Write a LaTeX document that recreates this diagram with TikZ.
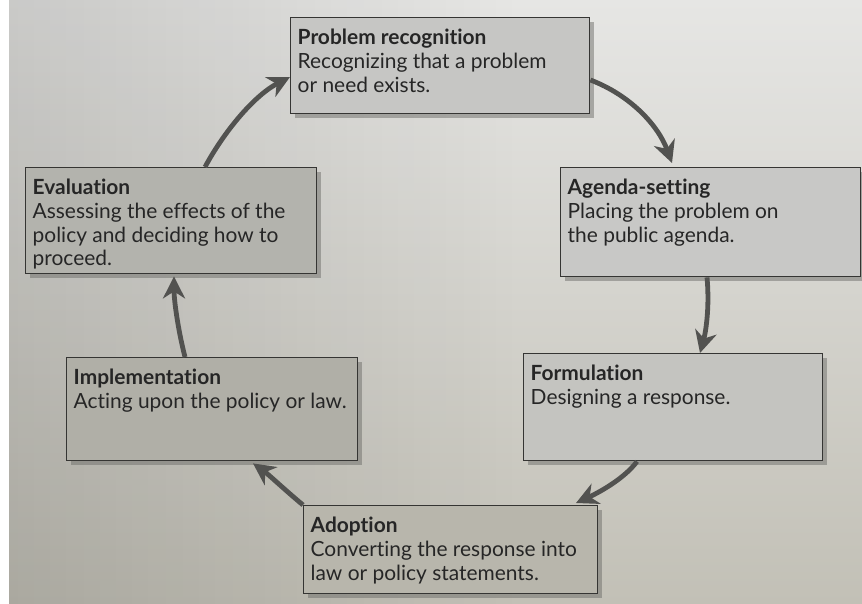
\documentclass[tikz,border=0pt]{standalone}
\usepackage{fontspec}
\setmainfont{Lato}[Ligatures=NoCommon]
\usetikzlibrary{arrows.meta,calc,fadings}
\definecolor{txt}{HTML}{262626}
\definecolor{boxline}{HTML}{353533}
\definecolor{arrowc}{HTML}{525250}
\definecolor{shadowc}{HTML}{6E6E6A}
\definecolor{bgtop}{HTML}{E6E6E4}
\definecolor{bgbot}{HTML}{C2C0B6}
\definecolor{fillpr}{HTML}{C6C6C4}
\definecolor{fillag}{HTML}{C8C8C6}
\definecolor{fillfo}{HTML}{C4C4C0}
\definecolor{fillad}{HTML}{B8B6AC}
\definecolor{fillim}{HTML}{B0AFA7}
\definecolor{fillev}{HTML}{B3B3AD}
\newcommand\stage[7]{%
  \fill[shadowbox] (#2+5,#3+5) rectangle ++(#4,#5);
  \node[box, fill=#6, minimum width=#4 bp, minimum height=#5 bp] (#1) at (#2,#3)
    {\parbox[c][#5bp][t]{\dimexpr#4bp-14bp\relax}{\vspace*{11bp}#7}};
}
\begin{document}
\begin{tikzpicture}[x=1bp,y=-1bp,
  box/.style={draw=boxline, line width=1.4bp, inner xsep=7bp, inner ysep=0pt,
    anchor=north west, text=txt, font=\fontsize{21}{24}\selectfont},
  shadowbox/.style={fill=shadowc, fill opacity=0.5, draw=none},
  flow/.style={draw=arrowc, line width=4.8bp,
    -{Stealth[length=22bp,width=22bp,inset=7bp]}}]
\useasboundingbox (0,0) rectangle (862,604);
\fill[white] (0,0) rectangle (862,604);
\shade[top color=bgtop, bottom color=bgbot] (9,0) rectangle (862,604);
\fill[black, fill opacity=0.12, path fading=east] (9,0) rectangle (520,604);

\stage{pr}{290}{17}{299}{96}{fillpr}{\textbf{Problem recognition}\\Recognizing that a problem\\or need exists.}
\stage{ag}{560}{167}{300}{109}{fillag}{\textbf{Agenda-setting}\\Placing the problem on\\the public agenda.}
\stage{fo}{523}{353}{299}{107}{fillfo}{\textbf{Formulation}\\Designing a response.}
\stage{ad}{303}{505}{294}{88}{fillad}{\textbf{Adoption}\\Converting the response into\\law or policy statements.}
\stage{im}{66}{357}{291}{103}{fillim}{\textbf{Implementation}\\Acting upon the policy or law.}
\stage{ev}{25}{167}{291}{106}{fillev}{\textbf{Evaluation}\\Assessing the effects of the\\policy and deciding how to\\proceed.}

\draw[flow] ($(pr.north east)+(0,63)$) .. controls (630,95) and (658,125) .. ($(ag.north west)+(112,-4)$);
\draw[flow] ($(ag.south west)+(147,0)$) .. controls (710,310) and (705,335) .. ($(fo.north west)+(177,0)$);
\draw[flow] ($(fo.south west)+(114,0)$) .. controls (625,478) and (600,492) .. ($(ad.north west)+(273,-2)$);
\draw[flow] (ad.north west) .. controls (285,490) and (268,474) .. ($(im.south west)+(187,2)$);
\draw[flow] ($(im.north west)+(119,0)$) .. controls (178,330) and (174,300) .. ($(ev.south west)+(149,2)$);
\draw[flow] ($(ev.north west)+(180,0)$) .. controls (225,130) and (255,95) .. ($(pr.north west)+(0,60)$);
\end{tikzpicture}
\end{document}
